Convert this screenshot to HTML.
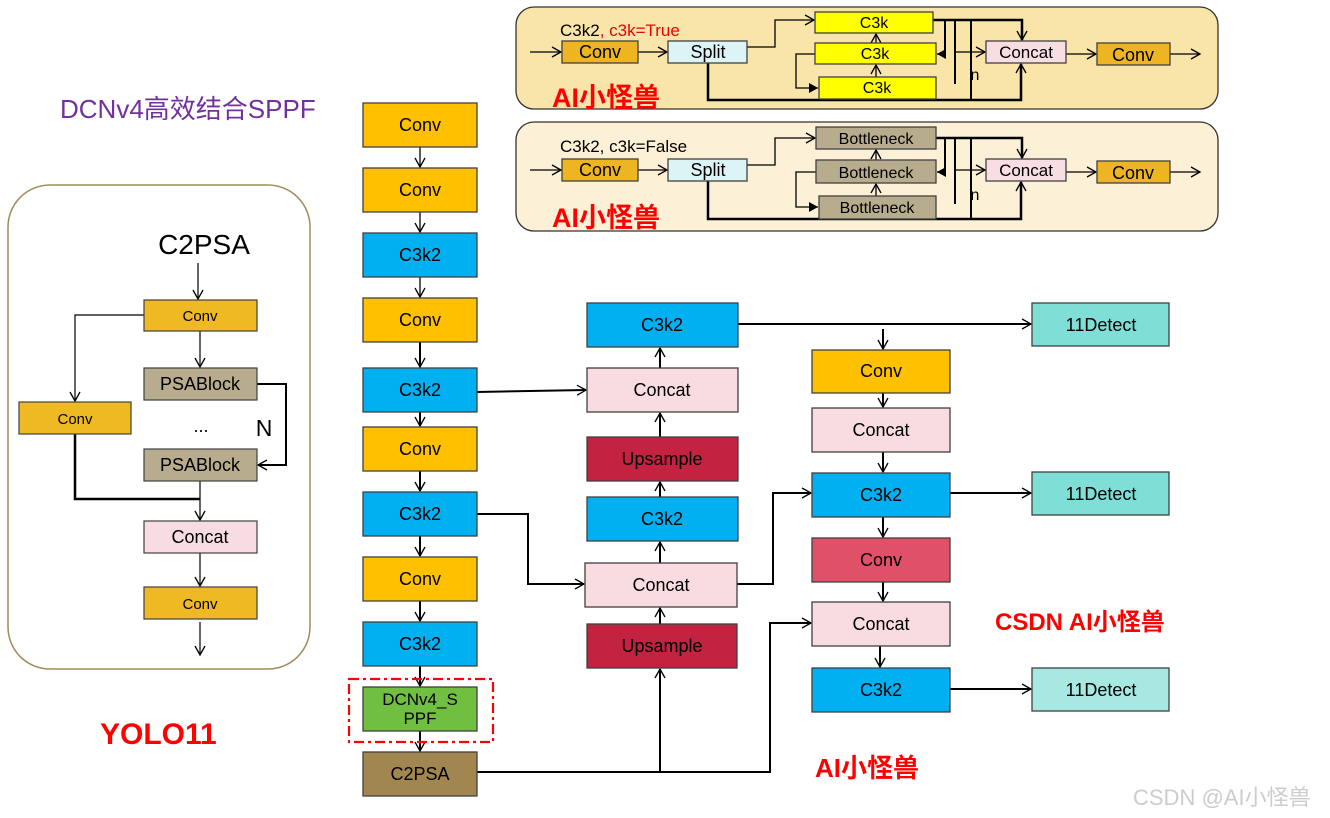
<!DOCTYPE html>
<html><head><meta charset="utf-8"><style>
html,body{margin:0;padding:0;background:#fff;width:1330px;height:818px;overflow:hidden}
svg text{font-family:"Liberation Sans","Noto Sans CJK SC",sans-serif}
</style></head><body>
<svg width="1330" height="818" viewBox="0 0 1330 818" xmlns="http://www.w3.org/2000/svg">
<defs>
<marker id="a" markerWidth="12" markerHeight="12" refX="10" refY="6" orient="auto" markerUnits="userSpaceOnUse"><path d="M1,1 L10,6 L1,11" fill="none" stroke="#000" stroke-width="1.3"/></marker>
<marker id="f" markerWidth="10" markerHeight="10" refX="9" refY="5" orient="auto" markerUnits="userSpaceOnUse"><path d="M0,0 L9,5 L0,10 Z" fill="#000"/></marker>
</defs>
<g stroke="#404040" stroke-width="1.3" font-size="17" text-anchor="middle">
<rect x="516" y="7" width="702" height="102" rx="18" fill="#F9E4A9" stroke="#333"/>
<rect x="516" y="122" width="702" height="109" rx="18" fill="#FCF0D6" stroke="#333"/>
</g>
<g fill="none" stroke="#000" stroke-width="1.3">
<line x1="530" y1="52" x2="561" y2="52" marker-end="url(#a)"/>
<line x1="638" y1="52" x2="667" y2="52" marker-end="url(#a)"/>
<polyline points="747,47 775,47 775,20 814,20" marker-end="url(#a)"/>
<polyline points="815,54 796,54 796,88 818,88" marker-end="url(#f)"/>
<line x1="876" y1="77" x2="876" y2="65" marker-end="url(#a)"/>
<line x1="876" y1="43" x2="876" y2="34" marker-end="url(#a)"/>
<polyline points="933,20 1022,20 1022,40" stroke-width="2.5" marker-end="url(#a)"/>
<polyline points="708,63 708,100 1021,100 1021,64" stroke-width="2.5" marker-end="url(#a)"/>
<line x1="945" y1="20" x2="945" y2="54" stroke-width="2"/><line x1="955" y1="20" x2="955" y2="84" stroke-width="2"/><line x1="971" y1="20" x2="971" y2="100" stroke-width="2"/>
<line x1="945" y1="54" x2="937" y2="54" marker-end="url(#f)"/>
<line x1="955" y1="52" x2="985" y2="52" marker-end="url(#a)"/>
<line x1="1066" y1="54" x2="1096" y2="54" marker-end="url(#a)"/>
<line x1="1170" y1="54" x2="1200" y2="54" marker-end="url(#a)"/>
<line x1="530" y1="170" x2="561" y2="170" marker-end="url(#a)"/>
<line x1="638" y1="170" x2="667" y2="170" marker-end="url(#a)"/>
<polyline points="747,165 775,165 775,138 815,138" marker-end="url(#a)"/>
<polyline points="816,172 796,172 796,207 818,207" marker-end="url(#f)"/>
<line x1="876" y1="196" x2="876" y2="184" marker-end="url(#a)"/>
<line x1="876" y1="160" x2="876" y2="150" marker-end="url(#a)"/>
<polyline points="936,138 1022,138 1022,158" stroke-width="2.5" marker-end="url(#a)"/>
<polyline points="708,181 708,219 1021,219 1021,182" stroke-width="2.5" marker-end="url(#a)"/>
<line x1="945" y1="138" x2="945" y2="172" stroke-width="2"/><line x1="955" y1="138" x2="955" y2="204" stroke-width="2"/><line x1="971" y1="138" x2="971" y2="219" stroke-width="2"/>
<line x1="945" y1="172" x2="937" y2="172" marker-end="url(#f)"/>
<line x1="955" y1="170" x2="985" y2="170" marker-end="url(#a)"/>
<line x1="1066" y1="172" x2="1096" y2="172" marker-end="url(#a)"/>
<line x1="1170" y1="172" x2="1200" y2="172" marker-end="url(#a)"/>
</g>
<g stroke="#404040" stroke-width="1.3">
<rect x="562" y="41" width="76" height="22" fill="#EEB522"/><rect x="668" y="41" width="79" height="22" fill="#DDF4F7"/>
<rect x="815" y="12" width="118" height="21" fill="#FFFF00"/><rect x="815" y="43" width="121" height="21" fill="#FFFF00"/><rect x="819" y="77" width="117" height="22" fill="#FFFF00"/>
<rect x="986" y="41" width="80" height="22" fill="#F8DDE3"/><rect x="1097" y="43" width="73" height="22" fill="#EEB522"/>
<rect x="562" y="159" width="76" height="22" fill="#EEB522"/><rect x="668" y="159" width="79" height="22" fill="#DDF4F7"/>
<rect x="816" y="127" width="120" height="22" fill="#B7AC8E"/><rect x="816" y="160" width="120" height="23" fill="#B7AC8E"/><rect x="819" y="196" width="117" height="23" fill="#B7AC8E"/>
<rect x="986" y="159" width="80" height="22" fill="#F8DDE3"/><rect x="1097" y="161" width="73" height="22" fill="#EEB522"/>
</g>
<g font-size="18" text-anchor="middle" fill="#000">
<text x="600" y="58">Conv</text><text x="708" y="58">Split</text><text x="874" y="28" font-size="16">C3k</text><text x="875" y="59" font-size="16">C3k</text><text x="877" y="93" font-size="16">C3k</text><text x="1026" y="58" font-size="17">Concat</text><text x="1133" y="61">Conv</text>
<text x="600" y="176">Conv</text><text x="708" y="176">Split</text><text x="876" y="144" font-size="16">Bottleneck</text><text x="876" y="178" font-size="16">Bottleneck</text><text x="877" y="213" font-size="16">Bottleneck</text><text x="1026" y="176" font-size="17">Concat</text><text x="1133" y="179">Conv</text>
<text x="975" y="80" font-size="16">n</text><text x="975" y="200" font-size="16">n</text>
<text x="560" y="36" text-anchor="start" font-size="17">C3k2<tspan fill="#E00">, c3k=True</tspan></text>
<text x="560" y="152" text-anchor="start" font-size="17">C3k2, c3k=False</text>
<g fill="#F00" font-weight="bold" font-size="27" text-anchor="start"><text x="552" y="107">AI小怪兽</text><text x="552" y="227">AI小怪兽</text>
<text x="995" y="630" font-size="24">CSDN AI小怪兽</text><text x="815" y="777" font-size="26">AI小怪兽</text><text x="100" y="744" font-size="30">YOLO11</text></g>
<text x="60" y="118" text-anchor="start" fill="#7030A0" font-size="26">DCNv4高效结合SPPF</text>
<text x="1133" y="805" text-anchor="start" fill="#ccc" font-size="22">CSDN @AI小怪兽</text>
</g>
<rect x="8" y="185" width="302" height="484" rx="42" fill="#fff" stroke="#A08C5A" stroke-width="1.5"/>
<g fill="none" stroke="#000" stroke-width="1.2">
<line x1="198" y1="263" x2="198" y2="299" marker-end="url(#a)"/>
<line x1="200" y1="331" x2="200" y2="367" marker-end="url(#a)"/>
<polyline points="144,315 75,315 75,401" marker-end="url(#a)"/>
<polyline points="257,384 286,384 286,465 258,465" stroke-width="2" marker-end="url(#a)"/>
<polyline points="75,434 75,499 200,499" stroke-width="2.5"/>
<line x1="200" y1="481" x2="200" y2="520" marker-end="url(#a)"/>
<line x1="200" y1="553" x2="200" y2="586" marker-end="url(#a)"/>
<line x1="200" y1="622" x2="200" y2="655" marker-end="url(#a)"/>
</g>
<g stroke="#404040" stroke-width="1.2">
<rect x="144" y="300" width="113" height="31" fill="#EEB922"/><rect x="144" y="368" width="113" height="32" fill="#B7AC8E"/>
<rect x="19" y="402" width="112" height="32" fill="#EEB922"/><rect x="144" y="449" width="113" height="32" fill="#B7AC8E"/>
<rect x="144" y="521" width="113" height="32" fill="#F8DCE3"/><rect x="144" y="587" width="113" height="32" fill="#EEB922"/>
</g>
<g text-anchor="middle" fill="#000" font-size="15">
<text x="204" y="254" font-size="28">C2PSA</text>
<text x="200" y="321">Conv</text><text x="200" y="390" font-size="18">PSABlock</text><text x="75" y="424">Conv</text>
<text x="201" y="432" font-size="18">...</text><text x="264" y="436" font-size="23">N</text>
<text x="200" y="471" font-size="18">PSABlock</text><text x="200" y="543" font-size="18">Concat</text><text x="200" y="609">Conv</text>
</g>
<g fill="none" stroke="#000" stroke-width="1.3">
<line x1="420" y1="147" x2="420" y2="167" marker-end="url(#a)"/>
<line x1="420" y1="212" x2="420" y2="232" marker-end="url(#a)"/>
<line x1="420" y1="277" x2="420" y2="297" marker-end="url(#a)"/>
<g stroke-width="2">
<line x1="420" y1="342" x2="420" y2="367" marker-end="url(#a)"/>
<line x1="420" y1="412" x2="420" y2="426" marker-end="url(#a)"/>
<line x1="420" y1="471" x2="420" y2="491" marker-end="url(#a)"/>
<line x1="420" y1="536" x2="420" y2="556" marker-end="url(#a)"/>
<line x1="420" y1="601" x2="420" y2="621" marker-end="url(#a)"/>
<line x1="420" y1="666" x2="420" y2="686" marker-end="url(#a)"/>
<line x1="420" y1="731" x2="420" y2="751" marker-end="url(#a)"/>
<line x1="477" y1="392" x2="586" y2="390" marker-end="url(#a)"/>
<polyline points="477,514 528,514 528,584 584,584" marker-end="url(#a)"/>
<polyline points="477,772 770,772 770,623 811,623" marker-end="url(#a)"/>
<line x1="660" y1="772" x2="660" y2="669" marker-end="url(#a)"/>
<line x1="660" y1="624" x2="660" y2="608" marker-end="url(#a)"/>
<line x1="660" y1="563" x2="660" y2="542" marker-end="url(#a)"/>
<line x1="660" y1="497" x2="660" y2="482" marker-end="url(#a)"/>
<line x1="660" y1="437" x2="660" y2="413" marker-end="url(#a)"/>
<line x1="660" y1="368" x2="660" y2="348" marker-end="url(#a)"/>
<polyline points="737,584 773,584 773,493 811,493" marker-end="url(#a)"/>
<line x1="738" y1="324" x2="1031" y2="324" marker-end="url(#a)"/>
<line x1="883" y1="329" x2="883" y2="349" marker-end="url(#a)"/>
<line x1="883" y1="393" x2="883" y2="407" marker-end="url(#a)"/>
<line x1="883" y1="452" x2="883" y2="472" marker-end="url(#a)"/>
<line x1="883" y1="517" x2="883" y2="537" marker-end="url(#a)"/>
<line x1="883" y1="582" x2="883" y2="601" marker-end="url(#a)"/>
<line x1="880" y1="646" x2="880" y2="667" marker-end="url(#a)"/>
<line x1="950" y1="493" x2="1031" y2="493" marker-end="url(#a)"/>
<line x1="950" y1="689" x2="1031" y2="689" marker-end="url(#a)"/>
</g>
</g>
<g stroke="#404040" stroke-width="1.3">
<rect x="363" y="103" width="114" height="44" fill="#FFC000"/><rect x="363" y="168" width="114" height="44" fill="#FFC000"/>
<rect x="363" y="233" width="114" height="44" fill="#00B0F0"/><rect x="363" y="298" width="114" height="44" fill="#FFC000"/>
<rect x="363" y="368" width="114" height="44" fill="#00B0F0"/><rect x="363" y="427" width="114" height="44" fill="#FFC000"/>
<rect x="363" y="492" width="114" height="44" fill="#00B0F0"/><rect x="363" y="557" width="114" height="44" fill="#FFC000"/>
<rect x="363" y="622" width="114" height="44" fill="#00B0F0"/><rect x="363" y="687" width="114" height="44" fill="#70BF40"/>
<rect x="363" y="752" width="114" height="44" fill="#A2864F"/>
<rect x="587" y="303" width="151" height="44" fill="#00B0F0"/><rect x="587" y="368" width="151" height="44" fill="#F8DCE1"/>
<rect x="587" y="437" width="151" height="44" fill="#C32240"/><rect x="587" y="497" width="151" height="44" fill="#00B0F0"/>
<rect x="585" y="563" width="152" height="44" fill="#F8DCE1"/><rect x="587" y="624" width="150" height="44" fill="#C32240"/>
<rect x="812" y="350" width="138" height="43" fill="#FFC000"/><rect x="812" y="408" width="138" height="44" fill="#F8DCE1"/>
<rect x="812" y="473" width="138" height="44" fill="#00B0F0"/><rect x="812" y="538" width="138" height="44" fill="#E05068"/>
<rect x="812" y="602" width="138" height="44" fill="#F8DCE1"/><rect x="812" y="668" width="138" height="44" fill="#00B0F0"/>
<rect x="1032" y="303" width="137" height="43" fill="#7FDFD6"/><rect x="1032" y="472" width="137" height="43" fill="#7FDFD6"/><rect x="1032" y="668" width="137" height="43" fill="#A8E8E2"/>
</g>
<rect x="349" y="679" width="144" height="63" fill="none" stroke="#F00" stroke-width="2.2" stroke-dasharray="10,4,3,4"/>
<g text-anchor="middle" fill="#000" font-size="18">
<text x="420" y="131">Conv</text><text x="420" y="196">Conv</text><text x="420" y="261">C3k2</text><text x="420" y="326">Conv</text>
<text x="420" y="396">C3k2</text><text x="420" y="455">Conv</text><text x="420" y="520">C3k2</text><text x="420" y="585">Conv</text>
<text x="420" y="650">C3k2</text><text x="420" y="705" font-size="17">DCNv4_S</text><text x="420" y="724" font-size="17">PPF</text><text x="420" y="780">C2PSA</text>
<text x="662" y="331">C3k2</text><text x="662" y="396">Concat</text><text x="662" y="465">Upsample</text><text x="662" y="525">C3k2</text>
<text x="661" y="591">Concat</text><text x="662" y="652">Upsample</text>
<text x="881" y="377">Conv</text><text x="881" y="436">Concat</text><text x="881" y="501">C3k2</text><text x="881" y="566">Conv</text>
<text x="881" y="630">Concat</text><text x="881" y="696">C3k2</text>
<text x="1101" y="331">11Detect</text><text x="1101" y="500">11Detect</text><text x="1101" y="696">11Detect</text>
</g>
</svg>
</body></html>
